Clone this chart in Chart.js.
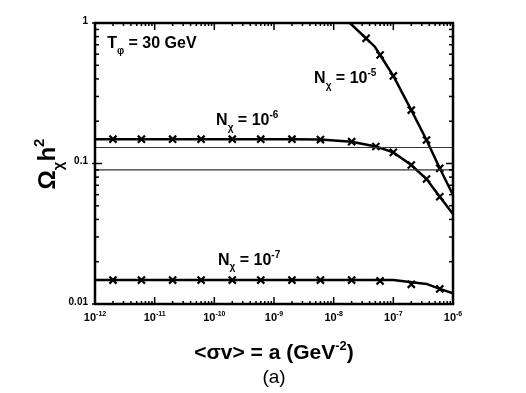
<!DOCTYPE html>
<html>
<head>
<meta charset="utf-8">
<script src="https://cdn.jsdelivr.net/npm/chart.js@4.4.0/dist/chart.umd.min.js"></script>
<style>
  html, body { margin: 0; padding: 0; background: #fff; }
  #wrap { width: 526px; height: 393px; }
</style>
</head>
<body>
<div id="wrap"><canvas id="grafico" width="526" height="393"></canvas></div>
<script>
// curvas continuas
const lineaX5 = [1.87e-8, 3.5e-8, 4.9e-8, 6e-8, 1e-7, 2e-7, 3.6e-7, 6e-7, 1e-6];
const lineaY5 = [1.0, 0.778, 0.678, 0.592, 0.420, 0.240, 0.147, 0.0924, 0.0597];

const lineaX6 = [1e-12, 2e-9, 6e-9, 2e-8, 5.1e-8, 1e-7, 2e-7, 3.6e-7, 6e-7, 1e-6];
const lineaY6 = [0.149, 0.149, 0.148, 0.143, 0.132, 0.120, 0.0976, 0.0776, 0.058, 0.0437];

const lineaX7 = [1e-12, 1e-7, 3.6e-7, 6e-7, 1e-6];
const lineaY7 = [0.0148, 0.0148, 0.0139, 0.0128, 0.0119];

// marcas x sobre las curvas
const marcasX5 = [3.5e-8, 6e-8, 1e-7, 2e-7, 3.6e-7, 6e-7];
const marcasY5 = [0.778, 0.592, 0.420, 0.240, 0.147, 0.0924];

const marcasX6 = [2e-12, 6e-12, 2e-11, 6e-11, 2e-10, 6e-10, 2e-9, 6e-9, 2e-8, 5.1e-8, 1e-7, 2e-7, 3.6e-7, 6e-7];
const marcasY6 = [0.149, 0.149, 0.149, 0.149, 0.149, 0.149, 0.149, 0.148, 0.143, 0.132, 0.120, 0.0976, 0.0776, 0.058];

const marcasX7 = [2e-12, 6e-12, 2e-11, 6e-11, 2e-10, 6e-10, 2e-9, 6e-9, 2e-8, 6e-8, 2e-7, 6e-7];
const marcasY7 = [0.0148, 0.0148, 0.0148, 0.0148, 0.0148, 0.0148, 0.0148, 0.0148, 0.0148, 0.0146, 0.0138, 0.0128];

// lineas horizontales de referencia
const limitesY = [0.13, 0.09];
const rangoX = [1e-12, 1e-6];

// etiquetas dentro del grafico (posicion en coordenadas de datos)
const etiquetas = [
  { x: 1.6e-12, y: 0.66, partes: [["T", 0], ["\u03c6", 1], [" = 30 GeV", 0]] },
  { x: 4.7e-9, y: 0.374, partes: [["N", 0], ["\u03c7", 1], [" = 10", 0], ["-5", 2]] },
  { x: 1.07e-10, y: 0.188, partes: [["N", 0], ["\u03c7", 1], [" = 10", 0], ["-6", 2]] },
  { x: 1.15e-10, y: 0.019, partes: [["N", 0], ["\u03c7", 1], [" = 10", 0], ["-7", 2]] },
];

const FUENTE = '"Liberation Sans", Arial, sans-serif';

function puntos(xs, ys) {
  return xs.map((v, i) => ({ x: v, y: ys[i] }));
}

// dibuja texto con subindices (1) y superindices (2)
function textoRico(ctx, partes, x, y, tam, alinear, peso) {
  const p0 = peso || "bold ";
  const medir = (p) => {
    ctx.font = p0 + (p[1] === 0 ? tam : Math.round(tam * 0.62)) + "px " + FUENTE;
    return ctx.measureText(p[0]).width;
  };
  const total = partes.reduce((s, p) => s + medir(p), 0);
  let cx = alinear === "center" ? x - total / 2 : alinear === "right" ? x - total : x;
  partes.forEach((p) => {
    const w = medir(p);
    let dy = 0;
    if (p[1] === 1) dy = tam * 0.35;
    if (p[1] === 2) dy = -tam * 0.45;
    ctx.fillText(p[0], cx, y + dy);
    cx += w;
  });
}

const marco = {
  id: "marco",
  afterDatasetsDraw(chart) {
    const { ctx, chartArea: a, scales } = chart;
    const sx = scales.x, sy = scales.y;
    ctx.save();
    ctx.strokeStyle = "#000";
    ctx.fillStyle = "#000";

    const raya = (x1, y1, x2, y2) => {
      ctx.beginPath();
      ctx.moveTo(x1, y1);
      ctx.lineTo(x2, y2);
      ctx.stroke();
    };

    // ticks eje x (abajo y arriba, hacia adentro)
    ctx.lineWidth = 1.5;
    for (let d = -12; d <= -6; d++) {
      for (let m = 1; m <= 9; m++) {
        if (d === -6 && m > 1) break;
        const px = sx.getPixelForValue(m * Math.pow(10, d));
        const len = m === 1 ? 7 : 3;
        raya(px, a.bottom, px, a.bottom - len);
        raya(px, a.top, px, a.top + len);
      }
    }
    // ticks eje y (izquierda y derecha)
    for (let d = -2; d <= 0; d++) {
      for (let m = 1; m <= 9; m++) {
        if (d === 0 && m > 1) break;
        const py = sy.getPixelForValue(m * Math.pow(10, d));
        const len = m === 1 ? 7 : 4;
        raya(a.left - (m === 1 ? 3 : 0), py, a.left + len, py);
        raya(a.right, py, a.right - len, py);
      }
    }

    // marco
    ctx.lineWidth = 2.5;
    ctx.strokeRect(a.left, a.top, a.right - a.left, a.bottom - a.top);

    // etiquetas eje x
    ctx.textBaseline = "alphabetic";
    for (let d = -12; d <= -6; d++) {
      const px = sx.getPixelForValue(Math.pow(10, d));
      textoRico(ctx, [["10", 0], [String(d), 2]], px, a.bottom + 17, 11, "center");
    }
    // etiquetas eje y
    ctx.textAlign = "right";
    ctx.textBaseline = "middle";
    ctx.font = "bold 10px " + FUENTE;
    [[1, "1"], [0.1, "0.1"], [0.01, "0.01"]].forEach(([v, t]) => {
      ctx.fillText(t, a.left - 7, sy.getPixelForValue(v) - 2);
    });

    // titulos
    ctx.textAlign = "left";
    ctx.textBaseline = "alphabetic";
    textoRico(ctx, [["<\u03c3v> = a (GeV", 0], ["-2", 2], [")", 0]], 274, 359, 21, "center");
    ctx.font = "19px " + FUENTE;
    ctx.textAlign = "center";
    ctx.fillText("(a)", 274, 383);
    ctx.textAlign = "left";

    ctx.save();
    ctx.translate(55, 164);
    ctx.rotate(-Math.PI / 2);
    textoRico(ctx, [["\u03a9", 0], ["\u03c7", 1], ["h", 0], ["2", 2]], 0, 0, 24, "center");
    ctx.restore();

    // etiquetas de curvas
    etiquetas.forEach((e) => {
      textoRico(ctx, e.partes, sx.getPixelForValue(e.x), sy.getPixelForValue(e.y), 16, "left");
    });
    ctx.restore();
  },
};

const estiloLinea = { showLine: true, pointRadius: 0, borderColor: "#000", borderWidth: 2.5, fill: false };
const estiloMarca = {
  showLine: false,
  pointStyle: "crossRot",
  pointRadius: 5,
  pointBorderWidth: 2.2,
  pointBorderColor: "#000",
  borderColor: "#000",
};

const datasets = [
  ...limitesY.map((v) => ({
    data: puntos(rangoX, [v, v]),
    showLine: true, pointRadius: 0, borderColor: "#333", borderWidth: 1.2,
  })),
  { data: puntos(lineaX5, lineaY5), ...estiloLinea },
  { data: puntos(lineaX6, lineaY6), ...estiloLinea },
  { data: puntos(lineaX7, lineaY7), ...estiloLinea },
  { data: puntos(marcasX5, marcasY5), ...estiloMarca },
  { data: puntos(marcasX6, marcasY6), ...estiloMarca },
  { data: puntos(marcasX7, marcasY7), ...estiloMarca },
];

new Chart(document.getElementById("grafico"), {
  type: "scatter",
  data: { datasets },
  options: {
    responsive: false,
    animation: false,
    layout: { padding: { left: 95, right: 73, top: 23, bottom: 89 } },
    plugins: { legend: { display: false }, tooltip: { enabled: false } },
    scales: {
      x: { type: "logarithmic", min: 1e-12, max: 1e-6, display: false },
      y: { type: "logarithmic", min: 0.01, max: 1, display: false },
    },
  },
  plugins: [marco],
});
</script>
</body>
</html>
